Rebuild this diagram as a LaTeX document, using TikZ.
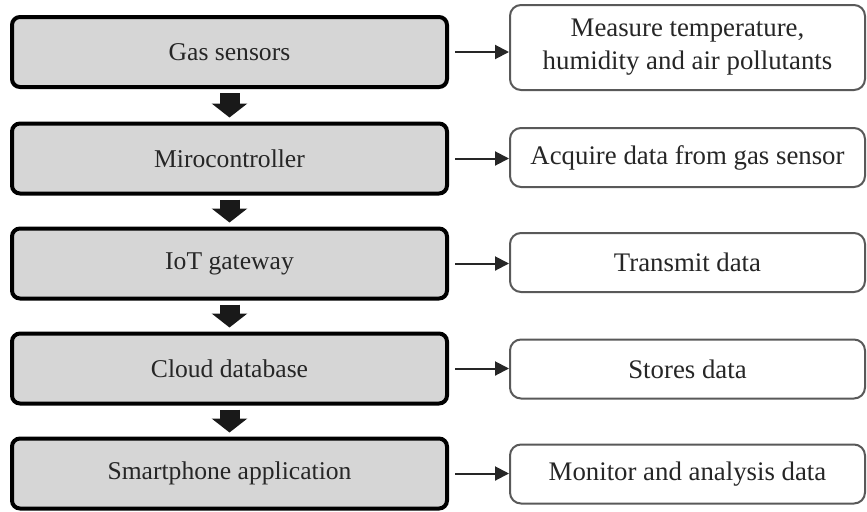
\documentclass[tikz,border=0pt]{standalone}
\usepackage{fontspec}
\setmainfont{Liberation Serif}
\usetikzlibrary{arrows.meta}

\tikzset{
	stage/.style={draw=black, line width=2pt, rounded corners=4pt, fill=gray!32,
		minimum width=217.5pt, minimum height=35pt, text=black!85,
		font=\fontsize{12.8}{15}\selectfont},
	task/.style={draw=black!65, line width=1pt, rounded corners=5.5pt, fill=white,
		minimum width=177.5pt, minimum height=29.5pt, align=center, text=black!85,
		font=\fontsize{13.4}{16.5}\selectfont},
	flow/.style={black!90, line width=10pt, -{Triangle[width=17.5pt, length=7pt]},
		shorten <=2pt, shorten >=2pt},
	link/.style={black!85, line width=1pt, -{Triangle[length=7pt, width=7pt]},
		shorten <=3pt},
}

\begin{document}
\begin{tikzpicture}[x=0.5pt, y=0.5pt]
	\useasboundingbox (0,0) rectangle (867,511);
	
	% 左侧流程框
	\node[stage] (gas)   at (229.5,459)   {Gas sensors};
	\node[stage] (mcu)   at (229.5,352.5) {Mirocontroller};
	\node[stage] (gw)    at (229.5,247.5) {IoT gateway};
	\node[stage] (cloud) at (229.5,142.5) {Cloud database};
	\node[stage] (app)   at (229.5,37.5)  {Smartphone application};
	
	% 右侧说明框
	\node[task, minimum height=42.5pt] (measure) at (687.5,463.5) {Measure temperature,\\humidity and air pollutants};
	\node[task] (acquire)  at (687.5,353.5) {Acquire data from gas sensor};
	\node[task] (transmit) at (687.5,248.5) {Transmit data};
	\node[task] (store)    at (687.5,142)   {Stores data};
	\node[task] (monitor)  at (687.5,37)    {Monitor and analysis data};
	
	% 流程箭头
	\foreach \a/\b in {gas/mcu, mcu/gw, gw/cloud, cloud/app}
		\draw[flow] (\a.south) -- (\b.north);
	
	% 说明箭头
	\foreach \a/\b in {gas/measure, mcu/acquire, gw/transmit, cloud/store, app/monitor}
		\draw[link] (\a.east) -- (\a.east -| \b.west);
\end{tikzpicture}
\end{document}
